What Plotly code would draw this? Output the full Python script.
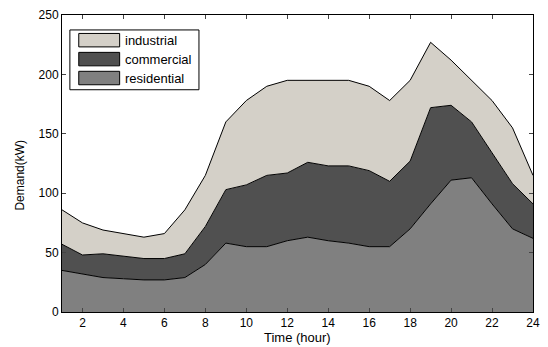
import plotly.graph_objects as go

hours = list(range(1, 25))
residential = [35, 32, 29, 28, 27, 27, 29, 40, 58, 55, 55, 60, 63, 60, 58, 55, 55, 70, 91, 111, 113, 91, 70, 62]
commercial = [22, 16, 20, 19, 18, 18, 20, 32, 45, 52, 60, 57, 63, 63, 65, 64, 55, 57, 81, 63, 47, 43, 38, 29]
industrial = [29, 27, 20, 19, 18, 21, 37, 43, 57, 71, 75, 78, 69, 72, 72, 71, 68, 68, 55, 38, 35, 44, 47, 24]

series = [
    ("residential", residential, "#808080"),
    ("commercial", commercial, "#505050"),
    ("industrial", industrial, "#d4d0c8"),
]

FONT = "Liberation Sans, Arial, sans-serif"
fig = go.Figure()
for name, vals, col in series:
    fig.add_trace(go.Scatter(
        x=hours, y=vals, name=name, mode="lines",
        stackgroup="one", line=dict(color="black", width=1),
        fillcolor=col, showlegend=False,
    ))

W, H = 548, 347
L, R, T, B = 62, 8, 14, 35
pw, ph = W - L - R, H - T - B

def px(x):
    return (x - L) / pw

def py(y):
    return (H - B - y) / ph

shapes = []
annotations = []
# legend box
shapes.append(dict(type="rect", xref="paper", yref="paper",
                   x0=px(70), x1=px(201), y0=py(89), y1=py(29),
                   line=dict(color="black", width=1), fillcolor="white", layer="above"))
legend_items = [("industrial", "#d4d0c8"), ("commercial", "#505050"), ("residential", "#808080")]
for i, (name, col) in enumerate(legend_items):
    top = 32.5 + i * 19
    shapes.append(dict(type="rect", xref="paper", yref="paper",
                       x0=px(79), x1=px(120.5), y0=py(top + 13.5), y1=py(top),
                       line=dict(color="black", width=1), fillcolor=col, layer="above"))
    annotations.append(dict(xref="paper", yref="paper", x=px(124), y=py(top + 7),
                            text=name, showarrow=False, xanchor="left", yanchor="middle",
                            font=dict(family=FONT, size=13, color="black")))

# axis titles
annotations.append(dict(xref="paper", yref="paper", x=px(301), y=py(338),
                        text="Time (hour)", showarrow=False, xanchor="center", yanchor="middle",
                        font=dict(family=FONT, size=13, color="black")))
annotations.append(dict(xref="paper", yref="paper", x=px(19.5), y=py(175),
                        text="Demand(kW)", showarrow=False, xanchor="center", yanchor="middle",
                        textangle=-90, font=dict(family=FONT, size=12, color="black")))

fig.update_layout(
    width=W, height=H,
    margin=dict(l=L, r=R, t=T, b=B),
    paper_bgcolor="white", plot_bgcolor="white",
    font=dict(family=FONT, size=12, color="black"),
    shapes=shapes, annotations=annotations,
    showlegend=False,
)
fig.update_xaxes(range=[1, 24], tickvals=list(range(2, 25, 2)), ticks="inside", ticklen=4,
                 showline=True, linecolor="black", linewidth=1, mirror="ticks",
                 showgrid=False, zeroline=False, tickfont=dict(size=12))
fig.update_yaxes(range=[0, 250], tickvals=list(range(0, 251, 50)), ticks="inside", ticklen=4,
                 showline=True, linecolor="black", linewidth=1, mirror="ticks",
                 showgrid=False, zeroline=False, tickfont=dict(size=12))

fig.write_html("out.html")
